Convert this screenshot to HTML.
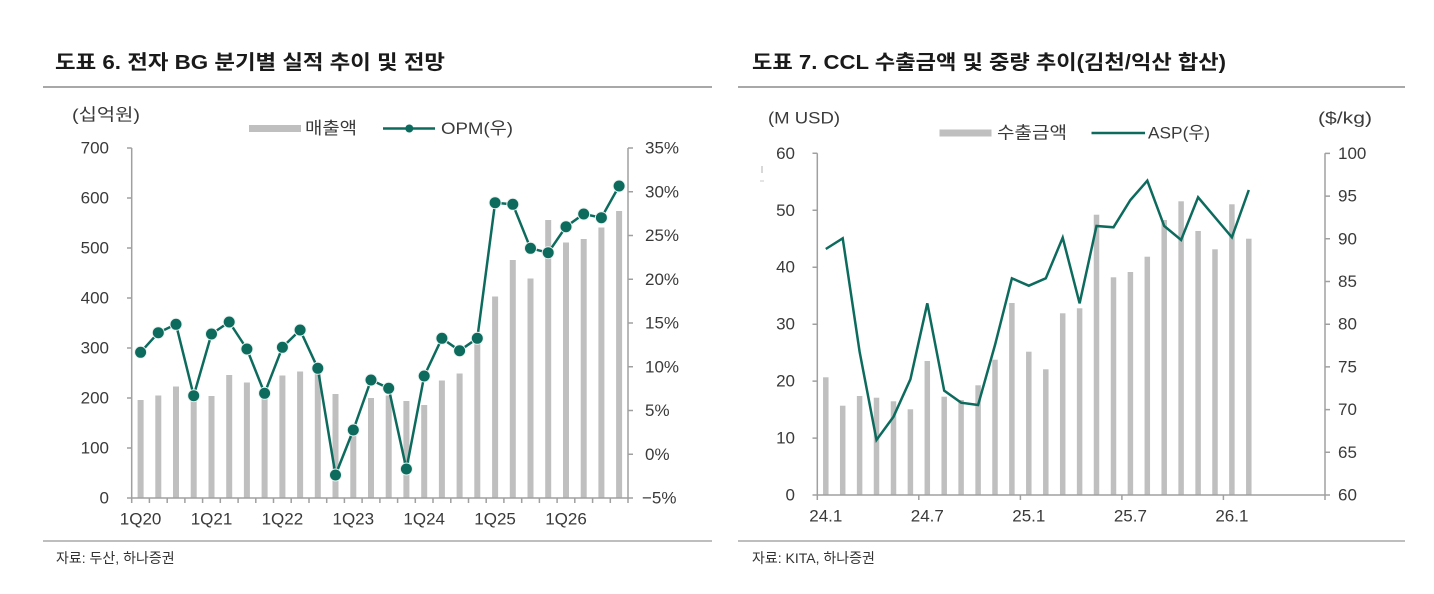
<!DOCTYPE html>
<html><head><meta charset="utf-8"><style>
html,body{margin:0;padding:0;background:#fff;}
svg{display:block;}
text{font-family:"Liberation Sans","Noto Sans CJK KR",sans-serif;fill:#3a3a3a;}
.t{font-weight:bold;fill:#1a1a1a;font-size:20px;}
.k{font-size:17px;}
.s{font-size:14px;fill:#333;}
</style></head><body>
<svg width="1434" height="594" viewBox="0 0 1434 594" xmlns="http://www.w3.org/2000/svg">
<rect width="1434" height="594" fill="#fff"/>
<!-- titles -->
<text class="t" x="55" y="63" dominant-baseline="central" textLength="390" lengthAdjust="spacingAndGlyphs">도표 6. 전자 BG 분기별 실적 추이 및 전망</text>
<text class="t" x="752" y="63" dominant-baseline="central" textLength="474" lengthAdjust="spacingAndGlyphs">도표 7. CCL 수출금액 및 중량 추이(김천/익산 합산)</text>
<line x1="43" y1="87" x2="712" y2="87" stroke="#a8a8a8" stroke-width="2"/>
<line x1="738" y1="87" x2="1405" y2="87" stroke="#a8a8a8" stroke-width="2"/>
<line x1="43" y1="541" x2="712" y2="541" stroke="#a8a8a8" stroke-width="1.5"/>
<line x1="738" y1="541" x2="1405" y2="541" stroke="#a8a8a8" stroke-width="1.5"/>
<text class="s" x="56" y="558" dominant-baseline="central">자료: 두산, 하나증권</text>
<text class="s" x="752" y="558" dominant-baseline="central">자료: KITA, 하나증권</text>

<!-- LEFT CHART -->
<text class="k" x="72" y="115" dominant-baseline="central" textLength="68" lengthAdjust="spacingAndGlyphs">(십억원)</text>
<rect x="249" y="125" width="52" height="7" fill="#bfbfbf"/>
<text class="k" x="305" y="128.5" dominant-baseline="central" textLength="52" lengthAdjust="spacingAndGlyphs">매출액</text>
<line x1="383" y1="128.5" x2="435" y2="128.5" stroke="#0d6b5e" stroke-width="2.5"/>
<circle cx="409.3" cy="128.5" r="4" fill="#0d6b5e"/>
<text class="k" x="441" y="128.5" dominant-baseline="central" textLength="72" lengthAdjust="spacingAndGlyphs">OPM(우)</text>

<g fill="#bfbfbf">
<rect x="137.6" y="400" width="6" height="98"/>
<rect x="155.3" y="395.5" width="6" height="102.5"/>
<rect x="173.0" y="386.5" width="6" height="111.5"/>
<rect x="190.7" y="398" width="6" height="100"/>
<rect x="208.5" y="396" width="6" height="102"/>
<rect x="226.2" y="375" width="6" height="123"/>
<rect x="243.9" y="382.5" width="6" height="115.5"/>
<rect x="261.6" y="395.5" width="6" height="102.5"/>
<rect x="279.4" y="375.5" width="6" height="122.5"/>
<rect x="297.1" y="371.5" width="6" height="126.5"/>
<rect x="314.8" y="374" width="6" height="124"/>
<rect x="332.5" y="394" width="6" height="104"/>
<rect x="350.3" y="428" width="6" height="70"/>
<rect x="368.0" y="398" width="6" height="100"/>
<rect x="385.7" y="395.5" width="6" height="102.5"/>
<rect x="403.4" y="401" width="6" height="97"/>
<rect x="421.2" y="405" width="6" height="93"/>
<rect x="438.9" y="380.5" width="6" height="117.5"/>
<rect x="456.6" y="373.5" width="6" height="124.5"/>
<rect x="474.3" y="343" width="6" height="155"/>
<rect x="492.1" y="296.5" width="6" height="201.5"/>
<rect x="509.8" y="260" width="6" height="238"/>
<rect x="527.5" y="278.5" width="6" height="219.5"/>
<rect x="545.2" y="220" width="6" height="278"/>
<rect x="563.0" y="242.5" width="6" height="255.5"/>
<rect x="580.7" y="239" width="6" height="259"/>
<rect x="598.4" y="227.5" width="6" height="270.5"/>
<rect x="616.1" y="211" width="6" height="287"/>
</g>

<g stroke="#a0a0a0" stroke-width="1.5" fill="none">
<line x1="131.7" y1="148" x2="131.7" y2="498"/>
<line x1="628" y1="148" x2="628" y2="498"/>
<line x1="131.7" y1="498" x2="628" y2="498"/>
<path d="M127 148H131.7M127 198H131.7M127 248H131.7M127 298H131.7M127 348H131.7M127 398H131.7M127 448H131.7M127 498H131.7"/>
<path d="M628 148H633M628 191.75H633M628 235.5H633M628 279.25H633M628 323H633M628 366.75H633M628 410.5H633M628 454.25H633M628 498H633"/>
<path d="M131.7 498V503M149.4 498V503M167.2 498V503M184.9 498V503M202.6 498V503M220.3 498V503M238.1 498V503M255.8 498V503M273.5 498V503M291.2 498V503M309.0 498V503M326.7 498V503M344.4 498V503M362.1 498V503M379.9 498V503M397.6 498V503M415.3 498V503M433.0 498V503M450.8 498V503M468.5 498V503M486.2 498V503M503.9 498V503M521.7 498V503M539.4 498V503M557.1 498V503M574.8 498V503M592.6 498V503M610.3 498V503M628.0 498V503"/>
</g>

<g class="k" text-anchor="end" dominant-baseline="central">
<text class="k" x="109" y="148" text-anchor="end" dominant-baseline="central">700</text>
<text class="k" x="109" y="198" text-anchor="end" dominant-baseline="central">600</text>
<text class="k" x="109" y="248" text-anchor="end" dominant-baseline="central">500</text>
<text class="k" x="109" y="298" text-anchor="end" dominant-baseline="central">400</text>
<text class="k" x="109" y="348" text-anchor="end" dominant-baseline="central">300</text>
<text class="k" x="109" y="398" text-anchor="end" dominant-baseline="central">200</text>
<text class="k" x="109" y="448" text-anchor="end" dominant-baseline="central">100</text>
<text class="k" x="109" y="498" text-anchor="end" dominant-baseline="central">0</text>
</g>
<text class="k" x="645" y="148" dominant-baseline="central">35%</text>
<text class="k" x="645" y="191.75" dominant-baseline="central">30%</text>
<text class="k" x="645" y="235.5" dominant-baseline="central">25%</text>
<text class="k" x="645" y="279.25" dominant-baseline="central">20%</text>
<text class="k" x="645" y="323" dominant-baseline="central">15%</text>
<text class="k" x="645" y="366.75" dominant-baseline="central">10%</text>
<text class="k" x="645" y="410.5" dominant-baseline="central">5%</text>
<text class="k" x="645" y="454.25" dominant-baseline="central">0%</text>
<text class="k" x="642" y="498" dominant-baseline="central">−5%</text>

<text class="k" x="140.6" y="519" text-anchor="middle" dominant-baseline="central">1Q20</text>
<text class="k" x="211.5" y="519" text-anchor="middle" dominant-baseline="central">1Q21</text>
<text class="k" x="282.4" y="519" text-anchor="middle" dominant-baseline="central">1Q22</text>
<text class="k" x="353.3" y="519" text-anchor="middle" dominant-baseline="central">1Q23</text>
<text class="k" x="424.2" y="519" text-anchor="middle" dominant-baseline="central">1Q24</text>
<text class="k" x="495.1" y="519" text-anchor="middle" dominant-baseline="central">1Q25</text>
<text class="k" x="566.0" y="519" text-anchor="middle" dominant-baseline="central">1Q26</text>

<polyline fill="none" stroke="#0d6b5e" stroke-width="2.5" stroke-linejoin="round" points="140.6,352.3 158.3,332.7 176.0,324.3 193.7,395.7 211.5,334 229.2,322 246.9,349 264.6,393.3 282.4,347.3 300.1,330 317.8,368.3 335.5,475 353.3,430 371.0,380 388.7,388.3 406.4,469 424.2,376 441.9,338.3 459.6,350.7 477.3,338.3 495.1,202.7 512.8,204.3 530.5,248.3 548.2,252.7 566.0,226.7 583.7,214 601.4,217.7 619.1,186"/>
<g fill="#0d6b5e" stroke="#eaf3f1" stroke-width="1">
<circle cx="140.6" cy="352.3" r="6"/><circle cx="158.3" cy="332.7" r="6"/><circle cx="176.0" cy="324.3" r="6"/><circle cx="193.7" cy="395.7" r="6"/>
<circle cx="211.5" cy="334" r="6"/><circle cx="229.2" cy="322" r="6"/><circle cx="246.9" cy="349" r="6"/><circle cx="264.6" cy="393.3" r="6"/>
<circle cx="282.4" cy="347.3" r="6"/><circle cx="300.1" cy="330" r="6"/><circle cx="317.8" cy="368.3" r="6"/><circle cx="335.5" cy="475" r="6"/>
<circle cx="353.3" cy="430" r="6"/><circle cx="371.0" cy="380" r="6"/><circle cx="388.7" cy="388.3" r="6"/><circle cx="406.4" cy="469" r="6"/>
<circle cx="424.2" cy="376" r="6"/><circle cx="441.9" cy="338.3" r="6"/><circle cx="459.6" cy="350.7" r="6"/><circle cx="477.3" cy="338.3" r="6"/>
<circle cx="495.1" cy="202.7" r="6"/><circle cx="512.8" cy="204.3" r="6"/><circle cx="530.5" cy="248.3" r="6"/><circle cx="548.2" cy="252.7" r="6"/>
<circle cx="566.0" cy="226.7" r="6"/><circle cx="583.7" cy="214" r="6"/><circle cx="601.4" cy="217.7" r="6"/><circle cx="619.1" cy="186" r="6"/>
</g>

<!-- RIGHT CHART -->
<text class="k" x="768" y="118" dominant-baseline="central" textLength="72" lengthAdjust="spacingAndGlyphs">(M USD)</text>
<text class="k" x="1318" y="118" dominant-baseline="central" textLength="54" lengthAdjust="spacingAndGlyphs">($/kg)</text>
<rect x="939.5" y="129.5" width="52" height="7" fill="#bfbfbf"/>
<text class="k" x="997" y="133" dominant-baseline="central" textLength="70" lengthAdjust="spacingAndGlyphs">수출금액</text>
<line x1="1091.5" y1="133" x2="1145" y2="133" stroke="#0d6b5e" stroke-width="2.5"/>
<text class="k" x="1148" y="133" dominant-baseline="central" textLength="62" lengthAdjust="spacingAndGlyphs">ASP(우)</text>
<line x1="762" y1="166" x2="762" y2="173" stroke="#b0b0b0" stroke-width="1"/>
<line x1="760" y1="181" x2="764" y2="181" stroke="#c8c8c8" stroke-width="1"/>

<g fill="#bfbfbf">
<rect x="823.05" y="377.3" width="5.5" height="117.7"/>
<rect x="839.95" y="405.7" width="5.5" height="89.3"/>
<rect x="856.85" y="396" width="5.5" height="99"/>
<rect x="873.75" y="397.7" width="5.5" height="97.3"/>
<rect x="890.75" y="401.3" width="5.5" height="93.7"/>
<rect x="907.65" y="409.3" width="5.5" height="85.7"/>
<rect x="924.55" y="361" width="5.5" height="134"/>
<rect x="941.45" y="396.7" width="5.5" height="98.3"/>
<rect x="958.35" y="400" width="5.5" height="95"/>
<rect x="975.35" y="385.3" width="5.5" height="109.7"/>
<rect x="992.25" y="359.7" width="5.5" height="135.3"/>
<rect x="1009.15" y="303" width="5.5" height="192"/>
<rect x="1026.05" y="351.7" width="5.5" height="143.3"/>
<rect x="1043.05" y="369.3" width="5.5" height="125.7"/>
<rect x="1059.95" y="313.3" width="5.5" height="181.7"/>
<rect x="1076.85" y="308.3" width="5.5" height="186.7"/>
<rect x="1093.75" y="214.7" width="5.5" height="280.3"/>
<rect x="1110.75" y="277.3" width="5.5" height="217.7"/>
<rect x="1127.65" y="272" width="5.5" height="223"/>
<rect x="1144.55" y="256.7" width="5.5" height="238.3"/>
<rect x="1161.45" y="220" width="5.5" height="275"/>
<rect x="1178.35" y="201.3" width="5.5" height="293.7"/>
<rect x="1195.35" y="231" width="5.5" height="264"/>
<rect x="1212.25" y="249.3" width="5.5" height="245.7"/>
<rect x="1229.15" y="204.3" width="5.5" height="290.7"/>
<rect x="1246.05" y="238.7" width="5.5" height="256.3"/>
</g>

<g stroke="#a0a0a0" stroke-width="1.5" fill="none">
<line x1="817.3" y1="153.3" x2="817.3" y2="495"/>
<line x1="1325" y1="153.3" x2="1325" y2="495"/>
<line x1="817.3" y1="495" x2="1325" y2="495"/>
<path d="M812.5 153.3H817.3M812.5 210.3H817.3M812.5 267.2H817.3M812.5 324.2H817.3M812.5 381.1H817.3M812.5 438.1H817.3M812.5 495H817.3"/>
<path d="M1325 153.4H1330M1325 196.1H1330M1325 238.8H1330M1325 281.5H1330M1325 324.2H1330M1325 366.9H1330M1325 409.6H1330M1325 452.3H1330M1325 495H1330"/>
<path d="M817.3 495V500M918.8 495V500M1020.4 495V500M1121.9 495V500M1223.4 495V500M1325 495V500"/>
</g>

<text class="k" x="795" y="153.3" text-anchor="end" dominant-baseline="central">60</text>
<text class="k" x="795" y="210.3" text-anchor="end" dominant-baseline="central">50</text>
<text class="k" x="795" y="267.2" text-anchor="end" dominant-baseline="central">40</text>
<text class="k" x="795" y="324.2" text-anchor="end" dominant-baseline="central">30</text>
<text class="k" x="795" y="381.1" text-anchor="end" dominant-baseline="central">20</text>
<text class="k" x="795" y="438.1" text-anchor="end" dominant-baseline="central">10</text>
<text class="k" x="795" y="495" text-anchor="end" dominant-baseline="central">0</text>

<text class="k" x="1338" y="153.4" dominant-baseline="central">100</text>
<text class="k" x="1338" y="196.1" dominant-baseline="central">95</text>
<text class="k" x="1338" y="238.8" dominant-baseline="central">90</text>
<text class="k" x="1338" y="281.5" dominant-baseline="central">85</text>
<text class="k" x="1338" y="324.2" dominant-baseline="central">80</text>
<text class="k" x="1338" y="366.9" dominant-baseline="central">75</text>
<text class="k" x="1338" y="409.6" dominant-baseline="central">70</text>
<text class="k" x="1338" y="452.3" dominant-baseline="central">65</text>
<text class="k" x="1338" y="495" dominant-baseline="central">60</text>

<text class="k" x="825.8" y="516" text-anchor="middle" dominant-baseline="central">24.1</text>
<text class="k" x="927.3" y="516" text-anchor="middle" dominant-baseline="central">24.7</text>
<text class="k" x="1028.8" y="516" text-anchor="middle" dominant-baseline="central">25.1</text>
<text class="k" x="1130.4" y="516" text-anchor="middle" dominant-baseline="central">25.7</text>
<text class="k" x="1231.9" y="516" text-anchor="middle" dominant-baseline="central">26.1</text>

<polyline fill="none" stroke="#0d6b5e" stroke-width="2.5" stroke-linejoin="miter" points="825.8,249 842.7,238.3 859.6,351.7 876.5,440 893.5,416.7 910.4,379.3 927.3,303.3 944.2,390.7 961.1,402.7 978.1,405 995.0,345 1011.9,278.3 1028.8,285.7 1045.8,278.3 1062.7,237.7 1079.6,303.3 1096.5,226 1113.5,227.3 1130.4,200 1147.3,180.7 1164.2,226 1181.1,240 1198.1,197.3 1215.0,217.3 1231.9,237.3 1248.8,190"/>
</svg>
</body></html>
